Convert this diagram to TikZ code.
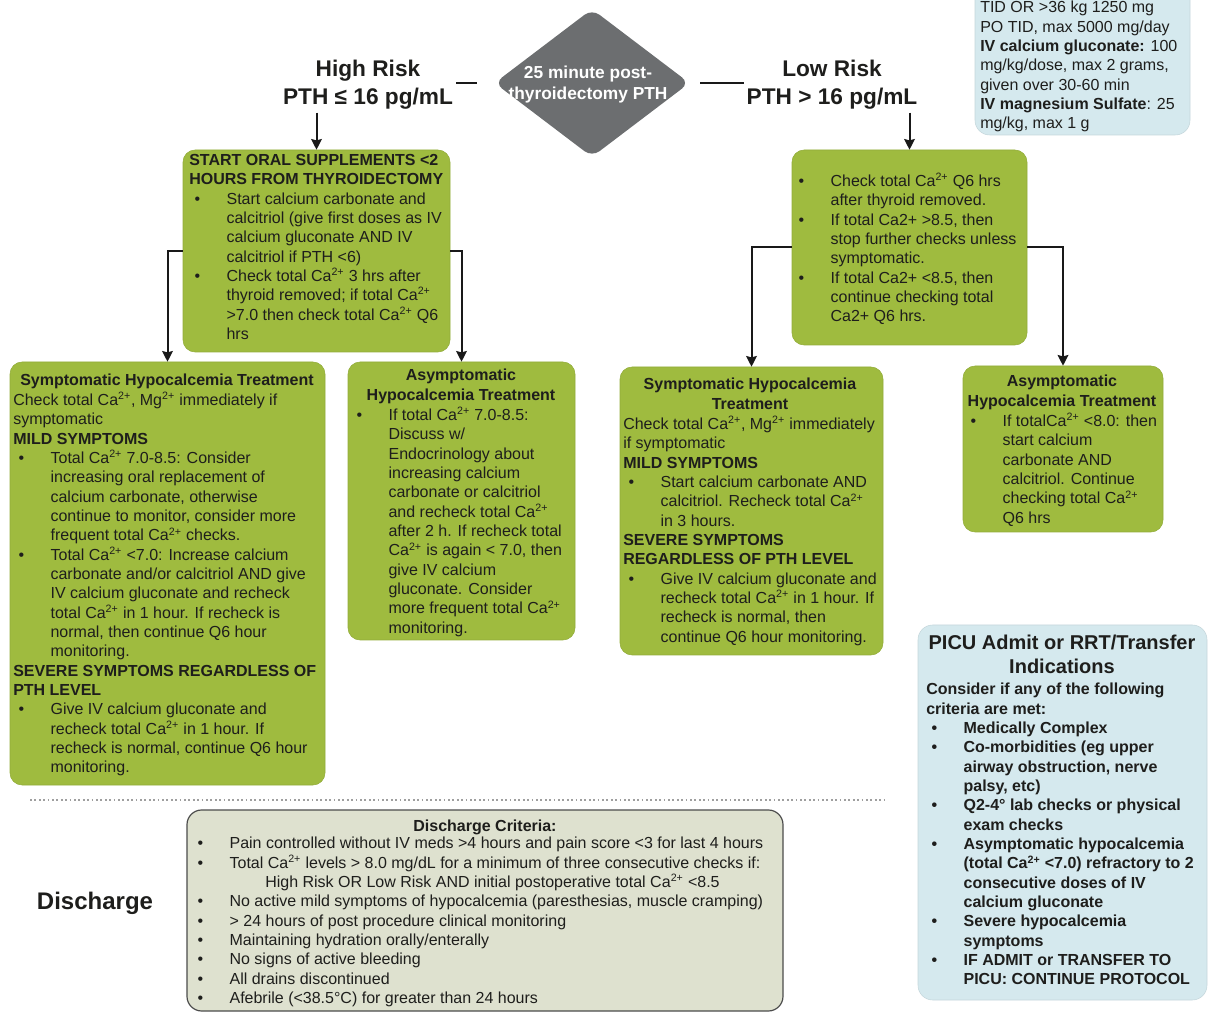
\documentclass[tikz,border=0pt]{standalone}
\usepackage{fontspec}
\setmainfont{Liberation Sans}
\usepackage{tikz}
\usetikzlibrary{shapes.geometric, arrows.meta, positioning}

\definecolor{boxgreen}{HTML}{9FBB3F}
\definecolor{boxblue}{HTML}{D5E9EE}
\definecolor{discfill}{HTML}{DEE1CF}
\definecolor{diagray}{HTML}{6C6E70}
\definecolor{inkdark}{HTML}{1E1E1C}

\newcommand{\bul}{\makebox[28pt][l]{\hspace{4pt}\textbullet}}
\newcommand{\ind}{\hspace*{28pt}}
\newcommand{\sps}[1]{\textsuperscript{#1}}

\tikzset{
  boxsize/.style 2 args={minimum width=#1*0.75pt, minimum height=#2*0.75pt, inner sep=0pt}
}
\tikzset{
  greenbox/.style={rectangle, rounded corners=9pt, fill=boxgreen, draw=boxgreen!92!black, line width=0.4pt}
}
\tikzset{
  bluebox/.style={rectangle, rounded corners=11pt, fill=boxblue, draw=boxblue!92!black, line width=0.4pt}
}
\tikzset{
  boxtext/.style={anchor=north west, inner sep=0pt, align=left, text=inkdark,
    font=\fontsize{12}{14.5}\selectfont, execute at begin node=\strut}
}
\tikzset{
  boxtitle/.style={anchor=north, inner sep=0pt, align=center, text=inkdark,
    font=\fontsize{12}{14.5}\selectfont\bfseries, execute at begin node=\strut}
}

\begin{document}
\begin{tikzpicture}[x=0.75pt, y=-0.75pt, >={Stealth[length=8pt, width=8pt, inset=1pt]},
    arrowline/.style={line width=1.5pt, draw=black!90}]
  \useasboundingbox (0,0) rectangle (1208,1012);

  % dosing box, cut at the top
  \node[bluebox, boxsize={215}{165}] (dose) at (1082.5,52.5) {};
  \node[boxtext] (dose-txt) at (980,1) {TID OR >36 kg 1250 mg\\
    PO TID, max 5000 mg/day\\
    \textbf{IV calcium gluconate:} 100\\
    mg/kg/dose, max 2 grams,\\
    given over 30-60 min\\
    \textbf{IV magnesium Sulfate}: 25\\
    mg/kg, max 1 g};

  % decision
  \node[diamond, fill=diagray, boxsize={195}{148}, rounded corners=7pt] (dia) at (592,83) {};
  \node[align=center, text=white, font=\fontsize{13}{15.75}\selectfont\bfseries] (dia-txt) at (588,85)
    {25 minute post-\\thyroidectomy PTH};
  \node[align=center, inner sep=2pt, text=inkdark, font=\fontsize{17}{21}\selectfont\bfseries] (hi) at (368,85)
    {High Risk\\PTH ≤ 16 pg/mL};
  \node[align=center, inner sep=2pt, text=inkdark, font=\fontsize{17}{21}\selectfont\bfseries] (lo) at (832,85)
    {Low Risk\\PTH > 16 pg/mL};
  \draw[arrowline, shorten <=13pt] (dia.west) -- (dia.west -| hi.east);
  \draw[arrowline, shorten <=8pt] (dia.east) -- (dia.east -| lo.west);

  % high risk branch
  \node[greenbox, boxsize={267}{202}] (oral) at (316.5,251) {};
  \node[boxtext] (oral-txt) at (189,154) {\textbf{START ORAL SUPPLEMENTS <2}\\
    \textbf{HOURS FROM THYROIDECTOMY}\\
    \bul Start calcium carbonate and\\
    \ind calcitriol (give first doses as IV\\
    \ind calcium gluconate AND IV\\
    \ind calcitriol if PTH <6)\\
    \bul Check total Ca\sps{2+} 3 hrs after\\
    \ind thyroid removed; if total Ca\sps{2+}\\
    \ind >7.0 then check total Ca\sps{2+} Q6\\
    \ind hrs};

  \node[greenbox, boxsize={315}{423}] (symL) at (167.5,573.5) {};
  \node[boxtitle] (symL-head) at (167,372) {Symptomatic Hypocalcemia Treatment};
  \node[boxtext] (symL-txt) at (13,392) {Check total Ca\sps{2+}, Mg\sps{2+} immediately if\\
    symptomatic\\
    \textbf{MILD SYMPTOMS}\\
    \bul Total Ca\sps{2+} 7.0-8.5: Consider\\
    \ind increasing oral replacement of\\
    \ind calcium carbonate, otherwise\\
    \ind continue to monitor, consider more\\
    \ind frequent total Ca\sps{2+} checks.\\
    \bul Total Ca\sps{2+} <7.0: Increase calcium\\
    \ind carbonate and/or calcitriol AND give\\
    \ind IV calcium gluconate and recheck\\
    \ind total Ca\sps{2+} in 1 hour. If recheck is\\
    \ind normal, then continue Q6 hour\\
    \ind monitoring.\\
    \textbf{SEVERE SYMPTOMS REGARDLESS OF}\\
    \textbf{PTH LEVEL}\\
    \bul Give IV calcium gluconate and\\
    \ind recheck total Ca\sps{2+} in 1 hour. If\\
    \ind recheck is normal, continue Q6 hour\\
    \ind monitoring.};

  \node[greenbox, boxsize={227}{278}] (asymL) at (461.5,501) {};
  \node[boxtitle] (asymL-head) at (461,369) {Asymptomatic\\Hypocalcemia Treatment};
  \node[boxtext] (asymL-txt) at (351,407) {\bul If total Ca\sps{2+} 7.0-8.5:\\
    \ind Discuss w/\\
    \ind Endocrinology about\\
    \ind increasing calcium\\
    \ind carbonate or calcitriol\\
    \ind and recheck total Ca\sps{2+}\\
    \ind after 2 h. If recheck total\\
    \ind Ca\sps{2+} is again < 7.0, then\\
    \ind give IV calcium\\
    \ind gluconate. Consider\\
    \ind more frequent total Ca\sps{2+}\\
    \ind monitoring.};

  % low risk branch
  \node[greenbox, boxsize={235}{195}] (check) at (909.5,247.5) {};
  \node[boxtext] (check-txt) at (793,173) {\bul Check total Ca\sps{2+} Q6 hrs\\
    \ind after thyroid removed.\\
    \bul If total Ca2+ >8.5, then\\
    \ind stop further checks unless\\
    \ind symptomatic.\\
    \bul If total Ca2+ <8.5, then\\
    \ind continue checking total\\
    \ind Ca2+ Q6 hrs.};

  \node[greenbox, boxsize={263}{288}] (symR) at (751.5,511) {};
  \node[boxtitle] (symR-head) at (750,378) {Symptomatic Hypocalcemia\\Treatment};
  \node[boxtext] (symR-txt) at (623,416) {Check total Ca\sps{2+}, Mg\sps{2+} immediately\\
    if symptomatic\\
    \textbf{MILD SYMPTOMS}\\
    \bul Start calcium carbonate AND\\
    \ind calcitriol. Recheck total Ca\sps{2+}\\
    \ind in 3 hours.\\
    \textbf{SEVERE SYMPTOMS}\\
    \textbf{REGARDLESS OF PTH LEVEL}\\
    \bul Give IV calcium gluconate and\\
    \ind recheck total Ca\sps{2+} in 1 hour. If\\
    \ind recheck is normal, then\\
    \ind continue Q6 hour monitoring.};

  \node[greenbox, boxsize={200}{166}] (asymR) at (1063,449) {};
  \node[boxtitle] (asymR-head) at (1062,375) {Asymptomatic\\Hypocalcemia Treatment};
  \node[boxtext] (asymR-txt) at (965,413) {\bul If totalCa\sps{2+} <8.0: then\\
    \ind start calcium\\
    \ind carbonate AND\\
    \ind calcitriol. Continue\\
    \ind checking total Ca\sps{2+}\\
    \ind Q6 hrs};

  % arrows
  \draw[arrowline, ->] (hi.south -| oral.north) -- (oral.north);
  \draw[arrowline, ->] (lo.south -| check.north) -- (check.north);
  \draw[arrowline, ->] (oral.west) -| (symL.north);
  \draw[arrowline, ->] (oral.east) -| (asymL.north);
  \draw[arrowline, ->] (check.west) -| (symR.north);
  \draw[arrowline, ->] (check.east) -| (asymR.north);

  % PICU indications
  \node[bluebox, boxsize={289}{375}] (picu) at (1062.5,812.5) {};
  \node[boxtitle, font=\fontsize{15}{18}\selectfont\bfseries] (picu-head) at (1062,635) {PICU Admit or RRT/Transfer\\Indications};
  \node[boxtext, font=\fontsize{12}{14.5}\selectfont\bfseries] (picu-txt) at (926,683) {Consider if any of the following\\
    criteria are met:\\
    \bul Medically Complex\\
    \bul Co-morbidities (eg upper\\
    \ind airway obstruction, nerve\\
    \ind palsy, etc)\\
    \bul Q2-4° lab checks or physical\\
    \ind exam checks\\
    \bul Asymptomatic hypocalcemia\\
    \ind (total Ca\sps{2+} <7.0) refractory to 2\\
    \ind consecutive doses of IV\\
    \ind calcium gluconate\\
    \bul Severe hypocalcemia\\
    \ind symptoms\\
    \bul IF ADMIT or TRANSFER TO\\
    \ind PICU: CONTINUE PROTOCOL};

  % discharge
  \draw[gray!75, line width=1.3pt, dotted] (30,800) -- (885,800);
  \node[text=inkdark, font=\fontsize{18}{22}\selectfont\bfseries] (dlabel) at (95,903) {Discharge};
  \node[rectangle, rounded corners=11pt, fill=discfill, draw=black!70, line width=0.9pt, boxsize={596}{201}] (disc) at (485,910.5) {};
  \node[boxtitle] (disc-head) at (485,818) {Discharge Criteria:};
  \node[boxtext] (disc-txt) at (192,837) {\bul Pain controlled without IV meds >4 hours and pain score <3 for last 4 hours\\
    \bul Total Ca\sps{2+} levels > 8.0 mg/dL for a minimum of three consecutive checks if:\\
    \hspace*{54.75pt}High Risk OR Low Risk AND initial postoperative total Ca\sps{2+} <8.5\\
    \bul No active mild symptoms of hypocalcemia (paresthesias, muscle cramping)\\
    \bul > 24 hours of post procedure clinical monitoring\\
    \bul Maintaining hydration orally/enterally\\
    \bul No signs of active bleeding\\
    \bul All drains discontinued\\
    \bul Afebrile (<38.5°C) for greater than 24 hours};
\end{tikzpicture}
\end{document}
